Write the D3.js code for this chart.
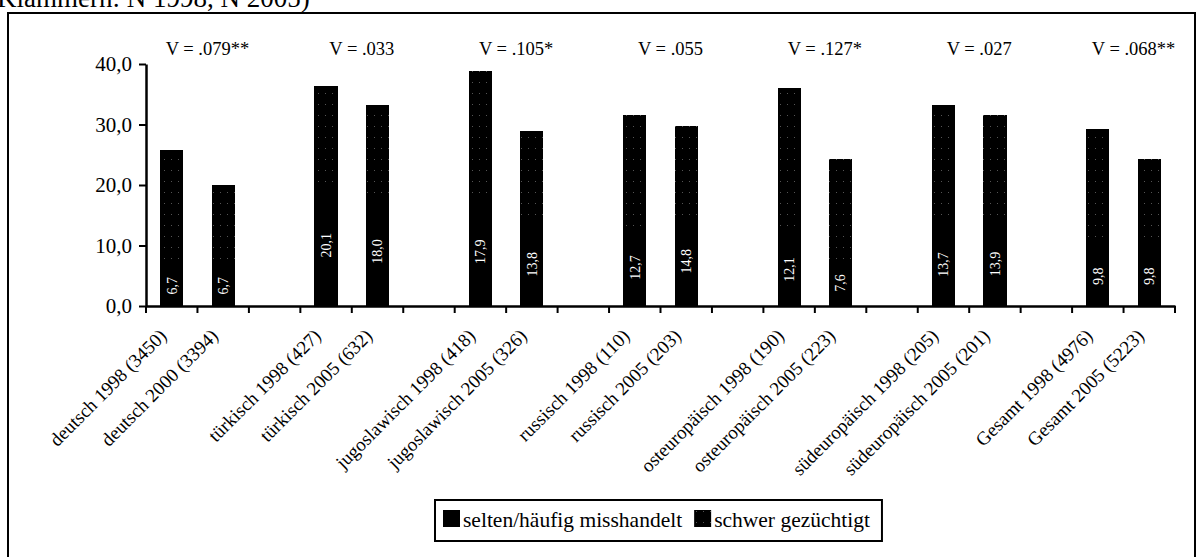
<!DOCTYPE html>
<html>
<head>
<meta charset="utf-8">
<script src="https://cdn.jsdelivr.net/npm/d3@7"></script>
<style>
  html, body { margin: 0; padding: 0; background: #fff; }
  svg { display: block; font-family: 'Liberation Serif', 'Times New Roman', serif; }
</style>
</head>
<body>
<svg id="chart" width="1199" height="557"></svg>
<script>
// categories, two per group
var categories = [
  'deutsch 1998 (3450)', 'deutsch 2000 (3394)',
  'türkisch 1998 (427)', 'türkisch 2005 (632)',
  'jugoslawisch 1998 (418)', 'jugoslawisch 2005 (326)',
  'russisch 1998 (110)', 'russisch 2005 (203)',
  'osteuropäisch 1998 (190)', 'osteuropäisch 2005 (223)',
  'südeuropäisch 1998 (205)', 'südeuropäisch 2005 (201)',
  'Gesamt 1998 (4976)', 'Gesamt 2005 (5223)'
]
var misshandelt = [6.7, 6.7, 20.1, 18.0, 17.9, 13.8, 12.7, 14.8, 12.1, 7.6, 13.7, 13.9, 9.8, 9.8]
var gezuechtigt = [19.1, 13.3, 16.3, 15.3, 21.0, 15.2, 18.9, 14.9, 23.9, 16.7, 19.6, 17.7, 19.5, 14.5]
var vLabels = ['V = .079**', 'V = .033', 'V = .105*', 'V = .055', 'V = .127*', 'V = .027', 'V = .068**']
var yTicks = [0, 10, 20, 30, 40]
var seriesNames = ['selten/häufig misshandelt', 'schwer gezüchtigt']

var svg = d3.select('#chart')

// speckled black for the upper segment
var defs = svg.append('defs')
var pat = defs.append('pattern')
  .attr('id', 'speckle')
  .attr('patternUnits', 'userSpaceOnUse')
  .attr('width', 7)
  .attr('height', 11)
pat.append('rect').attr('width', 7).attr('height', 11).attr('fill', '#000')
pat.append('rect').attr('x', 3).attr('y', 5).attr('width', 1).attr('height', 1).attr('fill', '#555')

// caption line, cut off at the top like in the scan
svg.append('text')
  .attr('x', -3)
  .attr('y', 7)
  .attr('font-size', 27)
  .text('Klammern: N 1998, N 2005)')

// outer frame
svg.append('rect')
  .attr('x', 8).attr('y', 13)
  .attr('width', 1187).attr('height', 570)
  .attr('fill', 'none')
  .attr('stroke', '#000')
  .attr('stroke-width', 2)

// slots: two bars per group, one empty slot between groups
var slots = []
for (var g = 0; g < vLabels.length; g++) {
  slots.push(categories[g * 2], categories[g * 2 + 1])
  if (g < vLabels.length - 1) slots.push('gap' + g)
}

var x = d3.scaleBand().domain(slots).range([146, 1175]).padding(0)
var y = d3.scaleLinear().domain([0, 40]).range([306, 64])
var barW = x.bandwidth() * 0.45

var rows = categories.map(function (c, i) {
  return { cat: c, a: misshandelt[i], b: gezuechtigt[i] }
})
var stacked = d3.stack().keys(['a', 'b'])(rows)

var fills = ['#000', 'url(#speckle)']

svg.append('g')
  .attr('shape-rendering', 'crispEdges')
  .selectAll('g')
  .data(stacked)
  .join('g')
  .attr('fill', function (d, i) { return fills[i] })
  .selectAll('rect')
  .data(function (d) { return d })
  .join('rect')
  .attr('x', function (d) { return x(d.data.cat) + (x.bandwidth() - barW) / 2 })
  .attr('y', function (d) { return y(d[1]) })
  .attr('width', barW)
  .attr('height', function (d) { return y(d[0]) - y(d[1]) + 0.5 })

// value labels inside the lower segment
svg.append('g')
  .selectAll('text')
  .data(stacked[0])
  .join('text')
  .attr('transform', function (d) {
    var cx = x(d.data.cat) + x.bandwidth() / 2
    var cy = y((d[0] + d[1]) / 2)
    return 'translate(' + cx + ',' + cy + ') rotate(-90)'
  })
  .attr('text-anchor', 'middle')
  .attr('dy', '0.35em')
  .attr('fill', '#fff')
  .attr('font-size', 14)
  .text(function (d) { return d3.format('.1f')(d.data.a).replace('.', ',') })

// y axis
var yAxis = svg.append('g')
  .attr('transform', 'translate(146,0)')
  .call(d3.axisLeft(y)
    .tickValues(yTicks)
    .tickSize(7)
    .tickSizeOuter(0)
    .tickPadding(7)
    .tickFormat(function (d) { return d3.format('.1f')(d).replace('.', ',') }))
yAxis.select('.domain').attr('stroke-width', 2.5)
yAxis.selectAll('.tick line').attr('stroke-width', 2)
yAxis.selectAll('text')
  .attr('font-family', 'Liberation Serif, serif')
  .attr('font-size', 21)
  .attr('fill', '#000')

// x axis
var xAxis = svg.append('g')
  .attr('transform', 'translate(0,306)')
  .call(d3.axisBottom(x)
    .tickSize(0)
    .tickSizeOuter(0)
    .tickFormat(function (d) { return d.indexOf('gap') === 0 ? '' : d }))
xAxis.select('.domain').attr('stroke-width', 2.5)
xAxis.selectAll('text')
  .attr('font-family', 'Liberation Serif, serif')
  .attr('font-size', 19)
  .attr('fill', '#000')
  .attr('text-anchor', 'end')
  .attr('x', 0)
  .attr('y', 0)
  .attr('dy', 0)
  .attr('transform', 'translate(-4,31) rotate(-45)')

// category boundary ticks
var bounds = slots.map(function (s) { return x(s) }).concat([x.range()[1]])
xAxis.append('g')
  .selectAll('line')
  .data(bounds)
  .join('line')
  .attr('x1', function (d) { return d })
  .attr('x2', function (d) { return d })
  .attr('y1', 0)
  .attr('y2', 7)
  .attr('stroke', '#000')
  .attr('stroke-width', 2)

// V labels above each group
svg.append('g')
  .selectAll('text')
  .data(vLabels)
  .join('text')
  .attr('x', function (d, i) {
    return x(categories[i * 2 + 1]) + 10
  })
  .attr('y', 55)
  .attr('text-anchor', 'middle')
  .attr('font-size', 18.5)
  .text(function (d) { return d })

// legend
var legend = svg.append('g')
var legBox = legend.append('rect')
  .attr('fill', '#fff')
  .attr('stroke', '#000')
  .attr('stroke-width', 2)
var lx = 443
seriesNames.forEach(function (name, i) {
  legend.append('rect')
    .attr('x', lx).attr('y', 510)
    .attr('width', 17).attr('height', 17)
    .attr('fill', fills[i])
  var t = legend.append('text')
    .attr('x', lx + 20)
    .attr('y', 527)
    .attr('font-size', 21.5)
    .text(name)
  lx += 20 + t.node().getComputedTextLength() + 12
})
legBox.attr('x', 435).attr('y', 500).attr('width', lx - 435).attr('height', 41)
</script>
</body>
</html>
